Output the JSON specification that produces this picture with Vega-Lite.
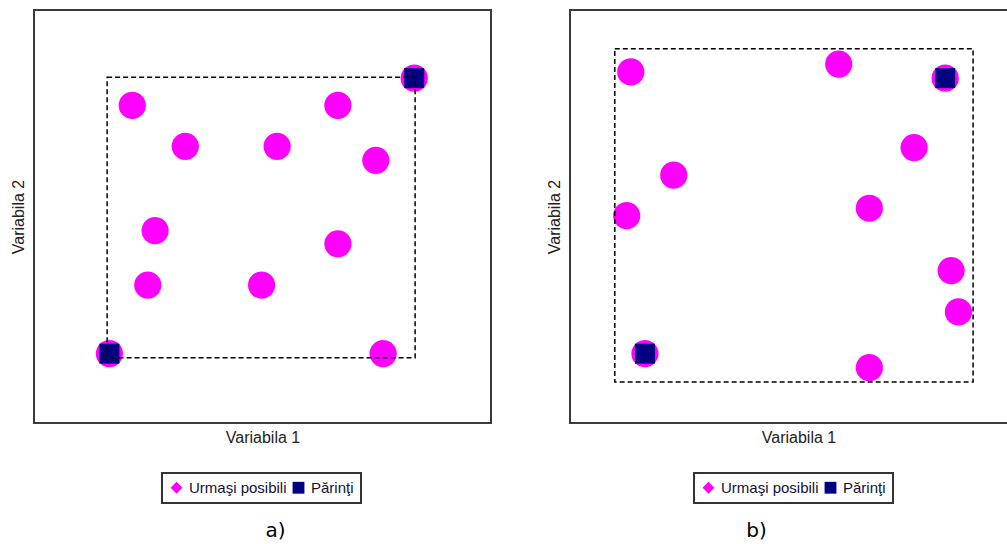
{
  "$schema": "https://vega.github.io/schema/vega-lite/v6.json",
  "background": "white",
  "padding": {"left": 9, "top": 9, "right": 0, "bottom": 0},
  "spacing": 53,
  "config": {
    "view": {"stroke": "#3a3a3a", "strokeWidth": 2},
    "axis": {"domain": false, "ticks": false, "labels": false, "grid": false, "titleFont": "Liberation Sans", "titleFontSize": 16, "titleFontWeight": "normal", "titleColor": "#222222"}
  },
  "resolve": {"scale": {"color": "independent", "shape": "independent"}, "legend": {"color": "independent", "shape": "independent"}},
  "hconcat": [
    {
      "width": 457,
      "height": 413,
      "title": {"text": "a)", "orient": "bottom", "anchor": "middle", "dx": 13, "offset": 17, "font": "DejaVu Sans", "fontSize": 20, "fontWeight": "normal", "color": "#000000"},
      "data": {"values": [
        {"x": 21.5, "y": 76.9, "tip": "Urmaşi posibili"},
        {"x": 66.5, "y": 76.9, "tip": "Urmaşi posibili"},
        {"x": 33.1, "y": 67.0, "tip": "Urmaşi posibili"},
        {"x": 53.2, "y": 67.0, "tip": "Urmaşi posibili"},
        {"x": 74.8, "y": 63.6, "tip": "Urmaşi posibili"},
        {"x": 26.5, "y": 46.6, "tip": "Urmaşi posibili"},
        {"x": 66.5, "y": 43.4, "tip": "Urmaşi posibili"},
        {"x": 24.9, "y": 33.4, "tip": "Urmaşi posibili"},
        {"x": 49.8, "y": 33.4, "tip": "Urmaşi posibili"},
        {"x": 76.4, "y": 16.8, "tip": "Urmaşi posibili"},
        {"x": 16.5, "y": 16.8, "tip": "Părinţi"},
        {"x": 83.2, "y": 83.5, "tip": "Părinţi"}
      ]},
      "layer": [
        {
          "mark": {"type": "point", "filled": true, "shape": "circle", "size": 740, "color": "#ff00ff", "opacity": 1},
          "encoding": {
            "x": {"field": "x", "type": "quantitative", "scale": {"domain": [0, 100], "nice": false, "zero": false}, "title": "Variabila 1", "axis": {"titlePadding": 6}},
            "y": {"field": "y", "type": "quantitative", "scale": {"domain": [0, 100], "nice": false, "zero": false}, "title": "Variabila 2", "axis": {"titlePadding": 8}}
          }
        },
        {
          "transform": [{"filter": "datum.tip == 'Părinţi'"}],
          "mark": {"type": "point", "filled": true, "shape": "square", "size": 400, "color": "#000080", "opacity": 1},
          "encoding": {
            "x": {"field": "x", "type": "quantitative", "title": "Variabila 1"},
            "y": {"field": "y", "type": "quantitative", "title": "Variabila 2"}
          }
        },
        {
          "mark": {"type": "point", "filled": true, "opacity": 0},
          "encoding": {
            "x": {"field": "x", "type": "quantitative", "title": "Variabila 1"},
            "y": {"field": "y", "type": "quantitative", "title": "Variabila 2"},
            "color": {"field": "tip", "type": "nominal", "scale": {"domain": ["Urmaşi posibili", "Părinţi"], "range": ["#ff00ff", "#000080"]},
              "legend": {"title": null, "orient": "none", "legendX": 128, "legendY": 463, "direction": "horizontal", "strokeColor": "#333333", "fillColor": "white", "padding": 7, "labelFont": "Liberation Sans", "labelFontSize": 15, "labelColor": "#111133", "symbolSize": 140, "symbolStrokeWidth": 0, "symbolOpacity": 1, "labelOffset": 5, "columnPadding": 4, "encode": {"legend": {"update": {"strokeWidth": {"value": 2}}}}}},
            "shape": {"field": "tip", "type": "nominal", "scale": {"domain": ["Urmaşi posibili", "Părinţi"], "range": ["diamond", "square"]},
              "legend": {"title": null, "orient": "none", "legendX": 128, "legendY": 463, "direction": "horizontal", "strokeColor": "#333333", "fillColor": "white", "padding": 7, "labelFont": "Liberation Sans", "labelFontSize": 15, "labelColor": "#111133", "symbolSize": 140, "symbolStrokeWidth": 0, "symbolOpacity": 1, "labelOffset": 5, "columnPadding": 4, "encode": {"legend": {"update": {"strokeWidth": {"value": 2}}}}}}
          }
        },
        {
          "data": {"values": [{"x1": 16.0, "x2": 83.4, "y1": 15.8, "y2": 83.7}]},
          "mark": {"type": "rect", "fill": null, "fillOpacity": 0, "stroke": "#000000", "strokeWidth": 1.5, "strokeDash": [5, 3]},
          "encoding": {
            "x": {"field": "x1", "type": "quantitative", "title": "Variabila 1"},
            "x2": {"field": "x2"},
            "y": {"field": "y1", "type": "quantitative", "title": "Variabila 2"},
            "y2": {"field": "y2"}
          }
        }
      ]
    },
    {
      "width": 457,
      "height": 413,
      "title": {"text": "b)", "orient": "bottom", "anchor": "middle", "dx": -42, "offset": 17, "font": "DejaVu Sans", "fontSize": 20, "fontWeight": "normal", "color": "#000000"},
      "data": {"values": [
        {"x": 13.3, "y": 85.0, "tip": "Urmaşi posibili"},
        {"x": 58.8, "y": 86.9, "tip": "Urmaşi posibili"},
        {"x": 75.3, "y": 66.7, "tip": "Urmaşi posibili"},
        {"x": 22.7, "y": 60.0, "tip": "Urmaşi posibili"},
        {"x": 12.4, "y": 50.2, "tip": "Urmaşi posibili"},
        {"x": 65.5, "y": 52.0, "tip": "Urmaşi posibili"},
        {"x": 83.4, "y": 36.9, "tip": "Urmaşi posibili"},
        {"x": 85.0, "y": 26.9, "tip": "Urmaşi posibili"},
        {"x": 65.5, "y": 13.4, "tip": "Urmaşi posibili"},
        {"x": 82.1, "y": 83.5, "tip": "Părinţi"},
        {"x": 16.4, "y": 16.8, "tip": "Părinţi"}
      ]},
      "layer": [
        {
          "mark": {"type": "point", "filled": true, "shape": "circle", "size": 740, "color": "#ff00ff", "opacity": 1},
          "encoding": {
            "x": {"field": "x", "type": "quantitative", "scale": {"domain": [0, 100], "nice": false, "zero": false}, "title": "Variabila 1", "axis": {"titlePadding": 6}},
            "y": {"field": "y", "type": "quantitative", "scale": {"domain": [0, 100], "nice": false, "zero": false}, "title": "Variabila 2", "axis": {"titlePadding": 8}}
          }
        },
        {
          "transform": [{"filter": "datum.tip == 'Părinţi'"}],
          "mark": {"type": "point", "filled": true, "shape": "square", "size": 400, "color": "#000080", "opacity": 1},
          "encoding": {
            "x": {"field": "x", "type": "quantitative", "title": "Variabila 1"},
            "y": {"field": "y", "type": "quantitative", "title": "Variabila 2"}
          }
        },
        {
          "mark": {"type": "point", "filled": true, "opacity": 0},
          "encoding": {
            "x": {"field": "x", "type": "quantitative", "title": "Variabila 1"},
            "y": {"field": "y", "type": "quantitative", "title": "Variabila 2"},
            "color": {"field": "tip", "type": "nominal", "scale": {"domain": ["Urmaşi posibili", "Părinţi"], "range": ["#ff00ff", "#000080"]},
              "legend": {"title": null, "orient": "none", "legendX": 124, "legendY": 463, "direction": "horizontal", "strokeColor": "#333333", "fillColor": "white", "padding": 7, "labelFont": "Liberation Sans", "labelFontSize": 15, "labelColor": "#111133", "symbolSize": 140, "symbolStrokeWidth": 0, "symbolOpacity": 1, "labelOffset": 5, "columnPadding": 4, "encode": {"legend": {"update": {"strokeWidth": {"value": 2}}}}}},
            "shape": {"field": "tip", "type": "nominal", "scale": {"domain": ["Urmaşi posibili", "Părinţi"], "range": ["diamond", "square"]},
              "legend": {"title": null, "orient": "none", "legendX": 124, "legendY": 463, "direction": "horizontal", "strokeColor": "#333333", "fillColor": "white", "padding": 7, "labelFont": "Liberation Sans", "labelFontSize": 15, "labelColor": "#111133", "symbolSize": 140, "symbolStrokeWidth": 0, "symbolOpacity": 1, "labelOffset": 5, "columnPadding": 4, "encode": {"legend": {"update": {"strokeWidth": {"value": 2}}}}}}
          }
        },
        {
          "data": {"values": [{"x1": 9.8, "x2": 88.2, "y1": 9.9, "y2": 90.6}]},
          "mark": {"type": "rect", "fill": null, "fillOpacity": 0, "stroke": "#000000", "strokeWidth": 1.5, "strokeDash": [5, 3]},
          "encoding": {
            "x": {"field": "x1", "type": "quantitative", "title": "Variabila 1"},
            "x2": {"field": "x2"},
            "y": {"field": "y1", "type": "quantitative", "title": "Variabila 2"},
            "y2": {"field": "y2"}
          }
        }
      ]
    }
  ]
}
